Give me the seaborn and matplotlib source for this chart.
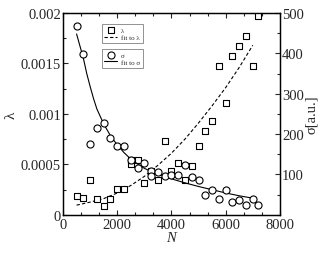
import numpy as np
import pandas as pd
import seaborn as sns
import matplotlib.pyplot as plt
from matplotlib.ticker import MultipleLocator, AutoMinorLocator

sns.set_style("ticks")
plt.rcParams['font.family'] = ['Liberation Serif', 'DejaVu Serif']

# lambda measurements (left axis)
n_lam = [500, 750, 1000, 1250, 1500, 1750, 2000, 2250, 2500, 2500, 2750, 3000,
         3250, 3500, 3750, 4000, 4250, 4500, 4750, 5000, 5250, 5500, 5750,
         6000, 6250, 6500, 6750, 7000, 7200]
lam = [0.000188, 0.000163, 0.000341, 0.000156, 0.000089, 0.000156, 0.000252,
       0.000252, 0.000503, 0.000545, 0.000545, 0.000314, 0.000436, 0.000341,
       0.000734, 0.000433, 0.000513, 0.000341, 0.000486, 0.000684, 0.00083,
       0.000929, 0.001474, 0.001105, 0.00157, 0.001673, 0.001769, 0.001474,
       0.001967]

# sigma measurements (right axis)
n_sig = [500, 750, 1000, 1250, 1500, 1750, 2000, 2250, 2500, 2750, 3000, 3250,
         3250, 3500, 3750, 4000, 4250, 4500, 4750, 5000, 5250, 5500, 5750,
         6000, 6250, 6500, 6750, 7000, 7200]
sig = [467, 398, 176, 216, 228, 191, 170, 170, 136, 116, 127, 108, 97, 105,
       97, 98, 99, 124, 93, 85, 50, 62, 38, 62, 31, 36, 25, 39, 23]

# fit curves
fit_n_lam = [500, 1000, 1500, 2000, 2500, 3000, 3500, 4000, 4500, 5000, 5500,
             6000, 6500, 7000]
fit_lam = [0.000095, 0.000125, 0.00016, 0.000215, 0.00029, 0.00038, 0.00049,
           0.00061, 0.00075, 0.00091, 0.00108, 0.00126, 0.00146, 0.00168]

fit_n_sig = [500, 625, 750, 875, 1000, 1125, 1250, 1500, 1750, 2000, 2250,
             2500, 2750, 3000, 3500, 4000, 4500, 5000, 5500, 6000, 6500, 7000]
fit_sig = [448, 418, 388, 350, 318, 288, 262, 225, 196, 173, 154, 138, 126,
           115, 100, 89, 79, 70, 62, 54, 47, 41]

df_lam = pd.DataFrame({'N': n_lam, 'lam': lam})
df_sig = pd.DataFrame({'N': n_sig, 'sig': sig})

fig = plt.figure(figsize=(3.3, 2.55), dpi=100)
ax = fig.add_axes([0.191, 0.154, 0.657, 0.791])
ax2 = ax.twinx()

sns.scatterplot(data=df_lam, x='N', y='lam', marker='s', s=14, color='white',
                edgecolor='black', linewidth=0.8, ax=ax, label='λ', zorder=3)
sns.lineplot(x=fit_n_lam, y=fit_lam, ax=ax, color='black', linewidth=0.8,
             dashes=(3, 2), label='fit to λ')

sns.scatterplot(data=df_sig, x='N', y='sig', marker='o', s=26, color='white',
                edgecolor='black', linewidth=0.8, ax=ax2, label='σ', zorder=3)
sns.lineplot(x=fit_n_sig, y=fit_sig, ax=ax2, color='black', linewidth=0.8,
             label='fit to σ')

ax.set_xlim(0, 8000)
ax.set_ylim(0, 0.002)
ax2.set_ylim(0, 500)

ax.xaxis.set_major_locator(MultipleLocator(2000))
ax.xaxis.set_minor_locator(AutoMinorLocator(3))
ax.set_yticks([0, 0.0005, 0.001, 0.0015, 0.002])
ax.set_yticklabels(['0', '0.0005', '0.001', '0.0015', '0.002'])
ax.yaxis.set_minor_locator(AutoMinorLocator(2))
ax2.set_yticks([100, 200, 300, 400, 500])
ax2.yaxis.set_minor_locator(AutoMinorLocator(2))

ax.tick_params(which='both', direction='in', top=True, right=False,
               labelsize=10.5, pad=1.5)
ax.tick_params(which='major', length=3.5, width=0.8)
ax.tick_params(which='minor', length=2, width=0.8)
ax.tick_params(axis='x', pad=2)
ax2.tick_params(which='both', direction='in', labelsize=10.5, pad=1.5)
ax2.tick_params(which='major', length=3.5, width=0.8)
ax2.tick_params(which='minor', length=2, width=0.8)

for a in (ax, ax2):
    for sp in a.spines.values():
        sp.set_linewidth(0.9)
        sp.set_color('black')

ax.set_xlabel('N', fontsize=10.5, style='italic', labelpad=0)
ax.set_ylabel('λ', fontsize=11, labelpad=2)
ax2.set_ylabel('σ[a.u.]', fontsize=10.5, labelpad=1)

# two small legend boxes
for a in (ax, ax2):
    if a.get_legend() is not None:
        a.get_legend().remove()
h1, l1 = ax.get_legend_handles_labels()
h2, l2 = ax2.get_legend_handles_labels()
leg_kw = dict(loc='upper left', fontsize=5, frameon=True, fancybox=False,
              edgecolor='gray', handlelength=1.8, handletextpad=0.6,
              borderpad=0.4, labelspacing=0.2, borderaxespad=0,
              framealpha=1)
leg1 = ax2.legend(h1, l1, bbox_to_anchor=(0.178, 0.945), **leg_kw)
leg1.get_frame().set_linewidth(0.6)
ax2.add_artist(leg1)
leg2 = ax2.legend(h2, l2, bbox_to_anchor=(0.178, 0.822), **leg_kw)
leg2.get_frame().set_linewidth(0.6)

fig.savefig('out.png', dpi=100)
